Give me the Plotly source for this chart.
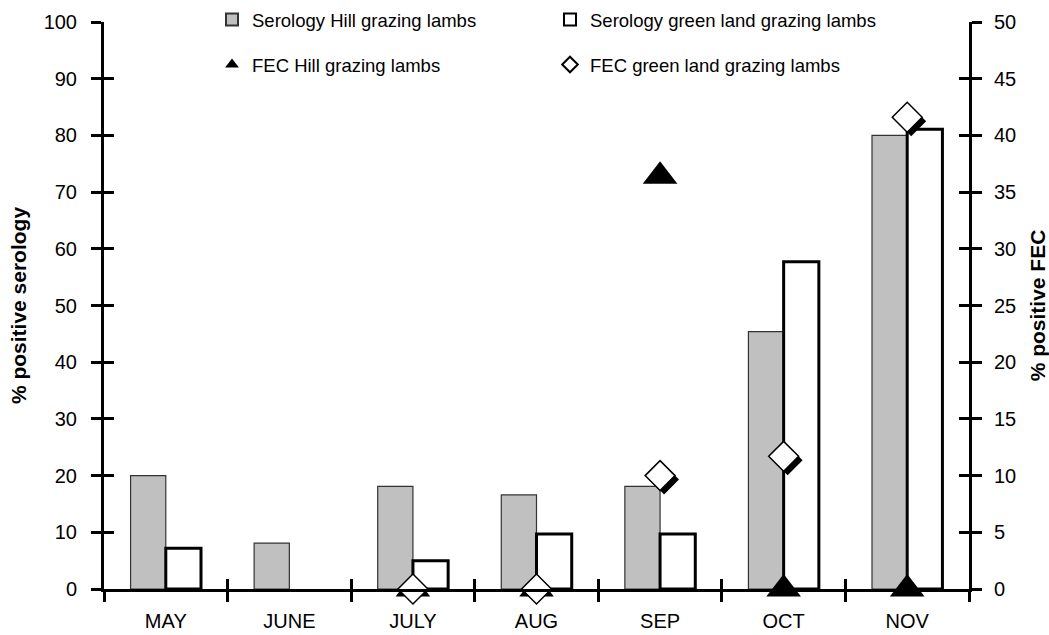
import plotly.graph_objects as go

months = ["MAY", "JUNE", "JULY", "AUG", "SEP", "OCT", "NOV"]
sero_hill = [20, 8.1, 18.1, 16.6, 18.1, 45.4, 80]
sero_green = [7.2, None, 5.0, 9.7, 9.7, 57.7, 81.1]
fec_hill = [None, None, 0, 0, 36.4, 0, 0]
fec_green = [None, None, 0, 0, 10, 11.7, 41.6]

left_ticks = list(range(0, 101, 10))
right_ticks = list(range(0, 51, 5))

FONT = "Liberation Sans, Arial, sans-serif"
W, H = 1049, 635
L, R, T, B = 104, 80, 22, 46
plot_w = W - L - R
plot_h = H - T - B
page_to_paper = lambda py: (T + plot_h - py) / plot_h

fig = go.Figure()

fig.add_trace(go.Bar(
    x=months, y=sero_hill, name="Serology Hill grazing lambs",
    marker=dict(color="#c0c0c0", line=dict(color="#333333", width=1.2)),
    legend="legend", xaxis="x", yaxis="y",
))
fig.add_trace(go.Bar(
    x=months, y=sero_green, name="Serology green land grazing lambs",
    marker=dict(color="#ffffff", line=dict(color="#000000", width=3)),
    legend="legend", xaxis="x", yaxis="y",
))

fig.add_trace(go.Scatter(
    x=months, y=fec_hill, mode="markers", name="FEC Hill grazing lambs",
    marker=dict(symbol="triangle-up", size=30, color="#000000", line=dict(width=0)),
    cliponaxis=False, legend="legend2", xaxis="x", yaxis="y2",
))

# diamond shadow: same data on an axis pair nudged a few pixels down/right
dx = 4.0 / (plot_w / 7.0)
dy = 4.0 / (plot_h / 50.0)
fig.add_trace(go.Scatter(
    x=months, y=fec_green, mode="markers", showlegend=False, hoverinfo="skip",
    marker=dict(symbol="diamond", size=23, color="#000000", line=dict(width=0)),
    cliponaxis=False, xaxis="x4", yaxis="y4",
))
fig.add_trace(go.Scatter(
    x=months, y=fec_green, mode="markers", name="FEC green land grazing lambs",
    marker=dict(symbol="diamond", size=23, color="#ffffff", line=dict(color="#000000", width=1.5)),
    cliponaxis=False, legend="legend2", xaxis="x5", yaxis="y6",
))

# invisible traces activating the inner-tick overlay axes
fig.add_trace(go.Scatter(x=months, y=[None]*7, mode="markers", showlegend=False,
                         hoverinfo="skip", xaxis="x3", yaxis="y3"))
fig.add_trace(go.Scatter(x=months, y=[None]*7, mode="markers", showlegend=False,
                         hoverinfo="skip", xaxis="x", yaxis="y5"))

axis_common = dict(showgrid=False, zeroline=False, linecolor="#000000", linewidth=3,
                   tickcolor="#000000", tickwidth=3, automargin=False,
                   tickfont=dict(family=FONT, size=20, color="#000000"))
cat = dict(type="category", categoryorder="array", categoryarray=months)

fig.update_layout(
    width=W, height=H,
    margin=dict(l=L, r=R, t=T, b=B, pad=0, autoexpand=False),
    paper_bgcolor="#ffffff", plot_bgcolor="#ffffff",
    barmode="group", bargap=0.43, bargroupgap=0,
    font=dict(family=FONT, size=18, color="#000000"),
    xaxis=dict(**cat, range=[-0.5, 6.5], ticks="outside", ticklen=10, tickson="boundaries",
               showline=True, anchor="y", ticklabelstandoff=12, **axis_common),
    xaxis3=dict(**cat, range=[-0.5, 6.5], ticks="inside", ticklen=10, tickson="boundaries",
                showline=False, showticklabels=False, overlaying="x", anchor="y3",
                **axis_common),
    xaxis4=dict(**cat, range=[-0.5 - dx, 6.5 - dx], visible=False, overlaying="x", anchor="y4"),
    xaxis5=dict(**cat, range=[-0.5, 6.5], visible=False, overlaying="x", anchor="y6"),
    yaxis=dict(range=[0, 100], tickvals=left_ticks, ticks="outside", ticklen=10,
               showline=True, ticklabelstandoff=10,
               title=dict(text="<b>% positive serology</b>", standoff=12,
                          font=dict(family=FONT, size=21)),
               **axis_common),
    yaxis3=dict(range=[0, 100], tickvals=left_ticks, ticks="inside", ticklen=10,
                showline=False, showticklabels=False, overlaying="y", side="left",
                **axis_common),
    yaxis2=dict(range=[0, 50], tickvals=right_ticks, ticks="outside", ticklen=10,
                showline=True, overlaying="y", side="right", anchor="x",
                ticklabelstandoff=8,
                title=dict(text="<b>% positive FEC</b>", standoff=20,
                           font=dict(family=FONT, size=21)),
                **axis_common),
    yaxis5=dict(range=[0, 50], tickvals=right_ticks, ticks="inside", ticklen=10,
                showline=False, showticklabels=False, overlaying="y", side="right",
                **axis_common),
    yaxis4=dict(range=[0 + dy, 50 + dy], visible=False, overlaying="y"),
    yaxis6=dict(range=[0, 50], visible=False, overlaying="y"),
    legend=dict(orientation="h", xref="paper", yref="paper",
                x=(212 - L) / plot_w, y=page_to_paper(20), xanchor="left", yanchor="middle",
                entrywidth=293, entrywidthmode="pixels", itemsizing="constant",
                bgcolor="rgba(0,0,0,0)", font=dict(family=FONT, size=18.5)),
    legend2=dict(orientation="h", xref="paper", yref="paper",
                 x=(212 - L) / plot_w, y=page_to_paper(65), xanchor="left", yanchor="middle",
                 entrywidth=293, entrywidthmode="pixels", itemsizing="constant",
                 bgcolor="rgba(0,0,0,0)", font=dict(family=FONT, size=18.5)),
    showlegend=True,
)

fig.write_html("out.html")
